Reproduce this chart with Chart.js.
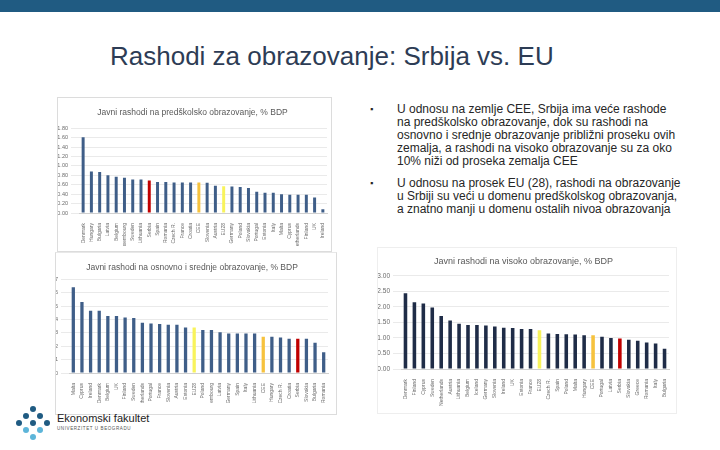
<!DOCTYPE html>
<html lang="sr">
<head>
<meta charset="UTF-8">
<title>Rashodi za obrazovanje</title>
<script src="https://cdn.jsdelivr.net/npm/chart.js"></script>
<style>
    body { margin: 0; width: 720px; height: 450px; background: #fff; position: relative; overflow: hidden;
           font-family: "Liberation Sans", Arial, sans-serif; }
    #topbar { position: absolute; left: 0; top: 0; width: 720px; height: 12px; background: #205b82; }
    #title { position: absolute; left: 110px; top: 41px; font-size: 26px; line-height: 30px; color: #2d3c55; white-space: nowrap; }
    .box { position: absolute; border: 1px solid #dcdcdc; background: #fff; }
    .box canvas { position: absolute; left: 0; top: 0; }
    .bullets { position: absolute; left: 370px; width: 330px; font-size: 12px; line-height: 12.9px; color: #262626; }
    .bullets .dot { position: absolute; left: 0; top: 0; font-size: 9px; }
    .bullets .txt { position: absolute; left: 27px; top: 0; white-space: nowrap; }
    .logo-dot { position: absolute; width: 6px; height: 6px; border-radius: 50%; }
    #logoText { position: absolute; left: 57px; top: 412px; font-size: 11px; color: #222; }
    #logoSub { position: absolute; left: 57px; top: 426px; font-size: 4.5px; letter-spacing: 0.6px; color: #555; }
</style>
</head>
<body>
<div id="topbar"></div>
<div id="title">Rashodi za obrazovanje: Srbija vs. EU</div>

<div class="box" style="left:57px; top:97px; width:273px; height:153px;">
    <canvas id="preschool" width="273" height="148"></canvas>
</div>
<div class="box" style="left:55px; top:252px; width:280px; height:161px; border-top-color:#e8e8e8;">
    <canvas id="basic" width="280" height="150"></canvas>
</div>
<div class="box" style="left:377px; top:247px; width:298px; height:165px; border-color:#eeeeee;">
    <canvas id="higher" width="298" height="160"></canvas>
</div>

<div class="bullets" style="top:103px;">
    <span class="dot">&#9642;</span>
    <span class="txt">U odnosu na zemlje CEE, Srbija ima veće rashode<br>na predškolsko obrazovanje, dok su rashodi na<br>osnovno i srednje obrazovanje približni proseku ovih<br>zemalja, a rashodi na visoko obrazovanje su za oko<br>10% niži od proseka zemalja CEE</span>
</div>
<div class="bullets" style="top:177px;">
    <span class="dot">&#9642;</span>
    <span class="txt">U odnosu na prosek EU (28), rashodi na obrazovanje<br>u Srbiji su veći u domenu predškolskog obrazovanja,<br>a znatno manji u domenu ostalih nivoa obrazovanja</span>
</div>

<div id="logo"></div>
<div id="logoText">Ekonomski fakultet</div>
<div id="logoSub">UNIVERZITET U BEOGRADU</div>

<script>
    // Javni rashodi na predškolsko obrazovanje, % BDP
    const preschoolCountries = ['Denmark', 'Hungary', 'Bulgaria', 'Latvia', 'Belgium', 'Luxembourg', 'Sweden',
        'Lithuania', 'Serbia', 'Spain', 'Romania', 'Czech R.', 'France', 'Croatia', 'CEE', 'Slovenia', 'Austria',
        'EU28', 'Germany', 'Poland', 'Slovakia', 'Portugal', 'Estonia', 'Italy', 'Malta', 'Cyprus', 'Netherlands',
        'Finland', 'UK', 'Ireland'];
    const preschoolValues = [1.61, 0.88, 0.87, 0.80, 0.77, 0.75, 0.71, 0.71, 0.69, 0.66, 0.66, 0.65, 0.65, 0.65,
        0.65, 0.64, 0.58, 0.57, 0.56, 0.55, 0.53, 0.45, 0.43, 0.43, 0.40, 0.39, 0.39, 0.39, 0.33, 0.08];

    // Javni rashodi na osnovno i srednje obrazovanje, % BDP
    const basicCountries = ['Malta', 'Cyprus', 'Ireland', 'Denmark', 'Belgium', 'UK', 'Finland', 'Sweden',
        'Netherlands', 'Portugal', 'France', 'Slovenia', 'Austria', 'Estonia', 'EU28', 'Poland', 'Luxembourg',
        'Latvia', 'Germany', 'Spain', 'Italy', 'Lithuania', 'CEE', 'Hungary', 'Czech R.', 'Croatia', 'Serbia',
        'Slovakia', 'Bulgaria', 'Romania'];
    const basicValues = [6.4, 5.3, 4.65, 4.65, 4.25, 4.25, 4.15, 4.1, 3.75, 3.7, 3.65, 3.6, 3.6, 3.4, 3.4, 3.2,
        3.2, 3.05, 2.95, 2.95, 2.95, 2.95, 2.7, 2.7, 2.65, 2.55, 2.55, 2.55, 2.25, 1.55];

    // Javni rashodi na visoko obrazovanje, % BDP
    const higherCountries = ['Denmark', 'Finland', 'Cyprus', 'Sweden', 'Netherlands', 'Austria', 'Lithuania',
        'Belgium', 'Iceland', 'Germany', 'Slovenia', 'Ireland', 'UK', 'Estonia', 'France', 'EU28', 'Czech R.',
        'Spain', 'Poland', 'Malta', 'Hungary', 'CEE', 'Portugal', 'Latvia', 'Serbia', 'Slovakia', 'Greece',
        'Romania', 'Italy', 'Bulgaria'];
    const higherValues = [2.44, 2.15, 2.11, 1.98, 1.71, 1.56, 1.46, 1.42, 1.42, 1.40, 1.37, 1.33, 1.32, 1.29,
        1.29, 1.25, 1.14, 1.13, 1.12, 1.11, 1.09, 1.09, 1.04, 1.00, 0.98, 0.94, 0.91, 0.85, 0.82, 0.65];

    // y axis ranges (min, max, step)
    const preschoolTicks = [0, 1.8, 0.2];
    const basicTicks = [0, 7, 1];
    const higherTicks = [0, 3, 0.5];

    const tickColor = '#6b6b6b';

    function barColors(countries, base) {
        return countries.map(c => {
            if (c === 'Serbia') return '#c00000';
            if (c === 'CEE') return '#f6c23e';
            if (c === 'EU28') return '#f8f35c';
            return base;
        });
    }

    function makeChart(id, title, countries, values, ticks, opts) {
        const ctx = document.getElementById(id).getContext('2d');
        return new Chart(ctx, {
            type: 'bar',
            data: {
                labels: countries,
                datasets: [{
                    data: values,
                    backgroundColor: barColors(countries, opts.color),
                    barPercentage: opts.barPct,
                    categoryPercentage: 1
                }]
            },
            options: {
                responsive: false,
                animation: false,
                layout: { padding: { left: 0, right: opts.padRight, top: 0, bottom: 0 } },
                plugins: {
                    legend: { display: false },
                    tooltip: { enabled: false },
                    title: {
                        display: true,
                        text: title,
                        color: '#595959',
                        font: { family: 'Liberation Sans', size: opts.titleSize, weight: 'normal' },
                        padding: opts.titlePad
                    }
                },
                scales: {
                    x: {
                        grid: { display: false },
                        border: { color: '#d0d0d0' },
                        ticks: {
                            autoSkip: false, minRotation: 90, maxRotation: 90, padding: 2,
                            color: tickColor, font: { family: 'Liberation Sans', size: opts.xFont }
                        },
                        afterFit: s => { s.height = opts.xHeight; }
                    },
                    y: {
                        min: ticks[0], max: ticks[1],
                        grid: { color: '#e4e4e4', lineWidth: 0.8 },
                        border: { display: false },
                        ticks: {
                            stepSize: ticks[2], padding: 3, autoSkip: false,
                            color: tickColor, font: { family: 'Liberation Sans', size: opts.yFont },
                            callback: v => opts.decimals ? v.toFixed(2) : v
                        },
                        afterFit: s => { s.width = opts.yWidth; }
                    }
                }
            }
        });
    }

    makeChart('preschool', 'Javni rashodi na predškolsko obrazovanje, % BDP', preschoolCountries, preschoolValues,
        preschoolTicks, { color: '#3f5e88', barPct: 0.36, padRight: 4, titleSize: 8.5, titlePad: { top: 10, bottom: 10 },
            xFont: 5, yFont: 5.5, xHeight: 33, yWidth: 21, decimals: true });

    makeChart('basic', 'Javni rashodi na osnovno i srednje obrazovanje, % BDP', basicCountries, basicValues,
        basicTicks, { color: '#3f5e88', barPct: 0.38, padRight: 8, titleSize: 8.5, titlePad: { top: 10, bottom: 6 },
            xFont: 5, yFont: 5.5, xHeight: 30, yWidth: 13, decimals: false });

    makeChart('higher', 'Javni rashodi na visoko obrazovanje, % BDP', higherCountries, higherValues,
        higherTicks, { color: '#1f2c47', barPct: 0.4, padRight: 7, titleSize: 9, titlePad: { top: 8, bottom: 9 },
            xFont: 5, yFont: 6.5, xHeight: 39, yWidth: 23, decimals: true });

    // logo: diamond of dots
    const logo = document.getElementById('logo');
    const dotShade = [['#1f5b82', '#1f5b82', '#1f5b82'], ['#1f5b82', '#1f5b82', '#5db5d9'], ['#1f5b82', '#5db5d9', '#5db5d9']];
    for (let i = 0; i < 3; i++) {
        for (let j = 0; j < 3; j++) {
            const d = document.createElement('div');
            d.className = 'logo-dot';
            d.style.left = (30 + (j - i) * 7) + 'px';
            d.style.top = (406 + (i + j) * 7) + 'px';
            d.style.background = dotShade[i][j];
            logo.appendChild(d);
        }
    }
</script>
</body>
</html>
